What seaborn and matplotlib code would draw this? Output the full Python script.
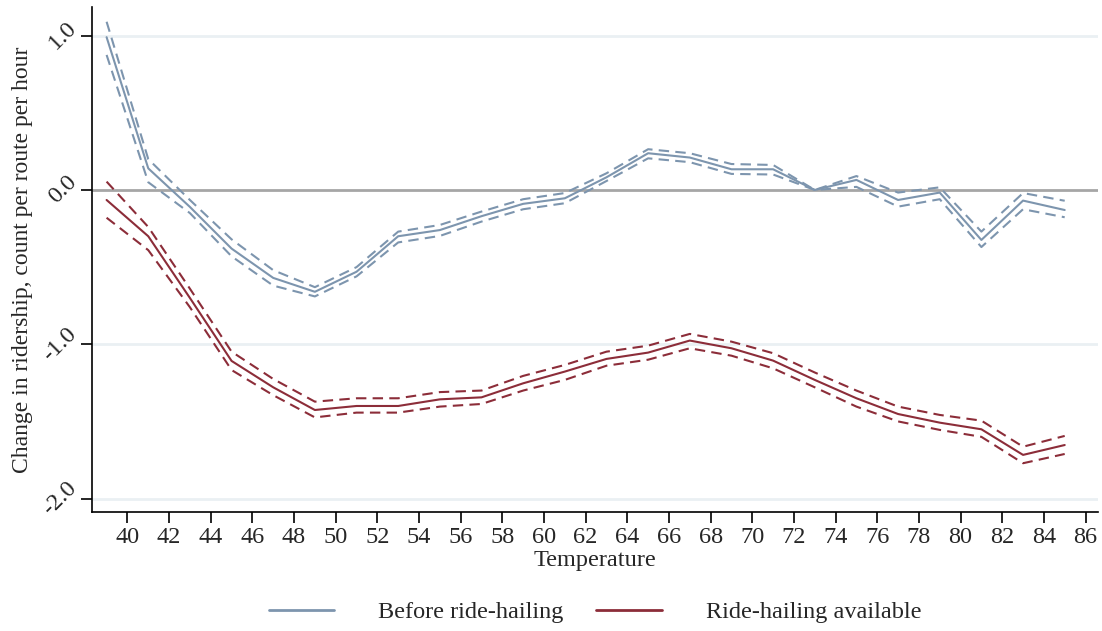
import matplotlib
matplotlib.use("Agg")
import matplotlib.pyplot as plt
import seaborn as sns
import pandas as pd
from matplotlib.lines import Line2D

temperature = [39, 41, 43, 45, 47, 49, 51, 53, 55, 57, 59, 61,
               63, 65, 67, 69, 71, 73, 75, 77, 79, 81, 83, 85]

before_est = [0.99, 0.14, -0.11, -0.38, -0.57, -0.66, -0.53, -0.30, -0.26, -0.17, -0.09, -0.054,
              0.082, 0.238, 0.21, 0.134, 0.134, 0.0, 0.065, -0.065, -0.017, -0.324, -0.069, -0.13]
before_hi = [1.09, 0.20, -0.065, -0.32, -0.52, -0.63, -0.50, -0.27, -0.227, -0.14, -0.06, -0.02,
             0.108, 0.264, 0.238, 0.168, 0.162, 0.0, 0.09, -0.017, 0.017, -0.27, -0.02, -0.07]
before_lo = [0.875, 0.05, -0.15, -0.43, -0.62, -0.69, -0.56, -0.34, -0.298, -0.205, -0.125, -0.086,
             0.058, 0.205, 0.18, 0.104, 0.10, 0.0, 0.02, -0.108, -0.06, -0.37, -0.125, -0.177]

after_est = [-0.065, -0.30, -0.70, -1.108, -1.279, -1.426, -1.40, -1.40, -1.357, -1.344, -1.253, -1.177,
             -1.095, -1.054, -0.976, -1.026, -1.106, -1.231, -1.35, -1.452, -1.508, -1.551, -1.717, -1.653]
after_hi = [0.054, -0.24, -0.64, -1.048, -1.225, -1.372, -1.35, -1.35, -1.31, -1.30, -1.205, -1.134,
            -1.048, -1.009, -0.933, -0.983, -1.058, -1.183, -1.30, -1.404, -1.458, -1.495, -1.664, -1.594]
after_lo = [-0.18, -0.39, -0.76, -1.167, -1.33, -1.474, -1.443, -1.443, -1.404, -1.387, -1.30, -1.231,
            -1.139, -1.10, -1.026, -1.074, -1.156, -1.279, -1.404, -1.50, -1.555, -1.60, -1.771, -1.711]

series_labels = ["Before ride-hailing", "Ride-hailing available"]
x_ticks = list(range(40, 88, 2))
y_ticks = [-2.0, -1.0, 0.0, 1.0]
y_ticklabels = ["-2.0", "-1.0", "0.0", "1.0"]

BLUE = "#7d95ae"
RED = "#8c2d39"
FS = 17.5

sns.set_theme(style="white")
plt.rcParams["font.family"] = ["Liberation Serif", "DejaVu Serif"]

fig = plt.figure(figsize=(11.02, 6.31), dpi=100)
ax = fig.add_axes([0.0835, 0.1886, 0.9129, 0.8004])

# grid lines
for yv in [-2.0, -1.0, 1.0]:
    ax.axhline(yv, color="#eaf0f3", lw=2.0, zorder=0)
ax.axhline(0.0, color="#a6a6a6", lw=2.0, zorder=1)

df = pd.DataFrame({"temp": temperature,
                   "b_est": before_est, "b_hi": before_hi, "b_lo": before_lo,
                   "a_est": after_est, "a_hi": after_hi, "a_lo": after_lo})

lw = 1.5
dash = (0, (5, 3))
for col, color, ls in [("b_est", BLUE, "-"), ("b_hi", BLUE, dash), ("b_lo", BLUE, dash),
                       ("a_est", RED, "-"), ("a_hi", RED, dash), ("a_lo", RED, dash)]:
    sns.lineplot(data=df, x="temp", y=col, ax=ax, color=color, lw=lw, linestyle=ls,
                 legend=False, zorder=3)

ax.set_xlim(38.3, 86.6)
ax.set_ylim(-2.087, 1.186)
ax.set_xticks(x_ticks)
ax.set_xticklabels([str(t) for t in x_ticks], fontsize=FS)
ax.set_yticks(y_ticks)
ax.set_yticklabels(y_ticklabels, fontsize=FS, rotation=45, va="center")

ax.tick_params(axis="both", direction="out", length=8, width=1.2, color="black",
               bottom=True, left=True)
ax.tick_params(axis="x", pad=3)
ax.tick_params(axis="y", pad=0)
for side in ["top", "right"]:
    ax.spines[side].set_visible(False)
for side in ["left", "bottom"]:
    ax.spines[side].set_color("black")
    ax.spines[side].set_linewidth(1.2)

ax.set_xlabel("Temperature", fontsize=FS, labelpad=1)
ax.set_ylabel("Change in ridership, count per route per hour", fontsize=17, labelpad=4)

handles = [Line2D([0], [0], color=BLUE, lw=2), Line2D([0], [0], color=RED, lw=2)]
fig.legend(handles, series_labels, loc="center", bbox_to_anchor=(0.54, 0.03), ncol=2,
           frameon=False, fontsize=FS, handlelength=2.7, columnspacing=1.35, handletextpad=1.8)

fig.savefig("out.png", dpi=100)
